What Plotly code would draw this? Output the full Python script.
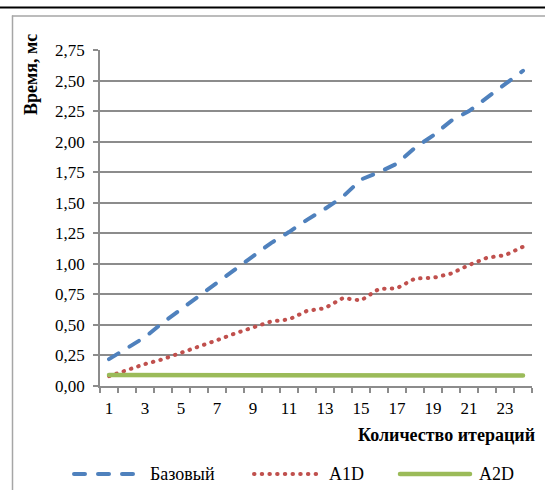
import plotly.graph_objects as go

# ---- data ----
categories = [1, 2, 3, 4, 5, 6, 7, 8, 9, 10, 11, 12,
              13, 14, 15, 16, 17, 18, 19, 20, 21, 22, 23, 24]
tick_labels = ["1", "3", "5", "7", "9", "11", "13", "15", "17", "19", "21", "23"]
tick_positions = [1, 3, 5, 7, 9, 11, 13, 15, 17, 19, 21, 23]
series_names = ["Базовый", "A1D", "A2D"]
base_vals = [0.22, 0.31, 0.40, 0.52, 0.63, 0.735, 0.84, 0.955, 1.06, 1.17, 1.26, 1.36,
             1.45, 1.55, 1.69, 1.75, 1.82, 1.95, 2.05, 2.17, 2.25, 2.36, 2.46, 2.58]
a1d_vals = [0.08, 0.13, 0.18, 0.22, 0.27, 0.325, 0.375, 0.43, 0.48, 0.528, 0.545, 0.615,
            0.637, 0.72, 0.70, 0.795, 0.80, 0.88, 0.885, 0.92, 0.99, 1.05, 1.07, 1.14]
a2d_vals = [0.09, 0.09, 0.09, 0.085, 0.085, 0.09, 0.09, 0.09, 0.085, 0.09, 0.085, 0.085,
            0.09, 0.085, 0.085, 0.085, 0.09, 0.09, 0.085, 0.085, 0.085, 0.085, 0.085, 0.085]
y_ticks = [0, 0.25, 0.5, 0.75, 1.0, 1.25, 1.5, 1.75, 2.0, 2.25, 2.5, 2.75]
x_title = "Количество итераций"
y_title = "Время, мс"

# ---- styles ----
W, H = 545, 490
ML, MR, MT, MB = 100, 13, 50, 104
PW, PH = W - ML - MR, H - MT - MB
FONT = "Liberation Serif"
GRID = "#8c8c8c"
colors = ["#4F81BD", "#C0504D", "#9BBB59"]
dashes = ["11px,13px", "0.5px,7.2px", "solid"]
widths = [4, 4, 4.5]


def px(x):
    return (x - ML) / PW


def py(y):
    return (H - MB - y) / PH


fig = go.Figure()
for name, vals, c, d, w in zip(series_names, [base_vals, a1d_vals, a2d_vals], colors, dashes, widths):
    fig.add_trace(go.Scatter(x=categories, y=vals, mode="lines", name=name,
                             line=dict(color=c, width=w, dash=d), showlegend=False))

shapes = [
    # outer frame
    dict(type="line", xref="paper", yref="paper", x0=px(0), x1=px(W), y0=py(7.5), y1=py(7.5),
         line=dict(color="#000000", width=2)),
    dict(type="line", xref="paper", yref="paper", x0=px(12.5), x1=px(W), y0=py(16), y1=py(16),
         line=dict(color="#a6a6a6", width=1.5)),
    dict(type="line", xref="paper", yref="paper", x0=px(12.5), x1=px(12.5), y0=py(16), y1=py(H),
         line=dict(color="#a6a6a6", width=1.5)),
]

# custom legend
leg_y = 474
leg_items = [(74, 140, 148), (254, 320, 327), (400, 470, 477)]
annotations = []
for (x0, x1, tx), name, c, d, w in zip(leg_items, series_names, colors, dashes, widths):
    shapes.append(dict(type="line", xref="paper", yref="paper", x0=px(x0), x1=px(x1),
                       y0=py(leg_y), y1=py(leg_y), line=dict(color=c, width=w, dash=d)))
    annotations.append(dict(text=name, xref="paper", yref="paper", x=px(tx), y=py(leg_y),
                            xanchor="left", yanchor="middle", showarrow=False,
                            font=dict(family=FONT, size=18, color="#000")))

annotations.append(dict(text="<b>%s</b>" % x_title, xref="paper", yref="paper",
                        x=px(537), y=py(435), xanchor="right", yanchor="middle",
                        showarrow=False, font=dict(family=FONT, size=18, color="#000")))
annotations.append(dict(text="<b>%s</b>" % y_title, xref="paper", yref="paper",
                        x=px(31), y=py(75), xanchor="center", yanchor="middle",
                        textangle=-90, showarrow=False,
                        font=dict(family=FONT, size=18, color="#000")))

fig.update_layout(
    width=W, height=H,
    margin=dict(l=ML, r=MR, t=MT, b=MB, autoexpand=False),
    paper_bgcolor="white", plot_bgcolor="white",
    separators=", ",
    showlegend=False,
    shapes=shapes,
    annotations=annotations,
    font=dict(family=FONT, size=17, color="#000"),
)
fig.update_xaxes(
    range=[0.5, 24.5], tickmode="array", tickvals=tick_positions, ticktext=tick_labels,
    ticks="", showgrid=False, zeroline=False, automargin=False,
    showline=True, linecolor=GRID, linewidth=1.5,
    ticklabelstandoff=6,
    minor=dict(tickmode="linear", tick0=0.5, dtick=1, ticks="outside", ticklen=5,
               tickcolor=GRID, tickwidth=1.5, showgrid=False),
    tickfont=dict(family=FONT, size=17, color="#000"),
)
fig.update_yaxes(
    range=[0, 2.75], tickmode="array", tickvals=y_ticks, tickformat=".2f",
    ticks="outside", ticklen=5, tickcolor=GRID, tickwidth=1.5,
    showgrid=True, gridcolor=GRID, gridwidth=1.5, zeroline=False, automargin=False,
    showline=True, linecolor=GRID, linewidth=1.5,
    ticklabelstandoff=5,
    tickfont=dict(family=FONT, size=17, color="#000"),
)

post = (
    "document.body.style.margin='0';document.body.style.overflow='hidden';"
    "var gd=document.getElementById('{plot_id}');"
    "function rc(){gd.querySelectorAll('.scatterlayer .js-line, .shapelayer path')"
    ".forEach(function(p){p.style.strokeLinecap='round';});}"
    "rc();gd.on('plotly_afterplot',rc);"
)
fig.write_html("out.html", post_script=post, config={"displayModeBar": False})
